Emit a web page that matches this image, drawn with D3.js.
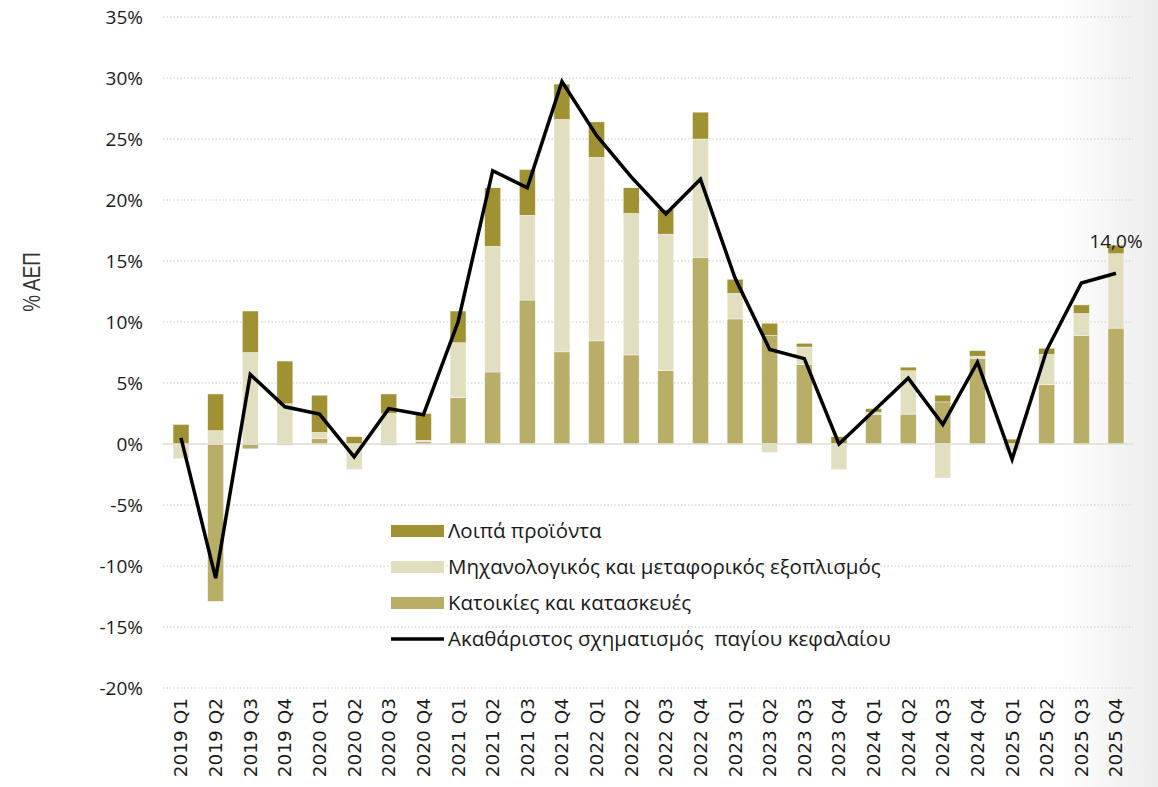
<!DOCTYPE html>
<html>
<head>
<meta charset="utf-8">
<script src="https://cdn.jsdelivr.net/npm/d3@7"></script>
<style>
  body { margin: 0; background: #ffffff; }
  svg { display: block; }
</style>
</head>
<body>
<script>
var SVG_WIDTH = 1158;
var SVG_HEIGHT = 787;

// Data (% of GDP)
var quarters = ["2019 Q1", "2019 Q2", "2019 Q3", "2019 Q4",
                "2020 Q1", "2020 Q2", "2020 Q3", "2020 Q4",
                "2021 Q1", "2021 Q2", "2021 Q3", "2021 Q4",
                "2022 Q1", "2022 Q2", "2022 Q3", "2022 Q4",
                "2023 Q1", "2023 Q2", "2023 Q3", "2023 Q4",
                "2024 Q1", "2024 Q2", "2024 Q3", "2024 Q4",
                "2025 Q1", "2025 Q2", "2025 Q3", "2025 Q4"];

var housing = [0.0, -12.9, -0.4, -0.1,
               0.45, 0.0, -0.1, 0.2,
               3.8, 5.9, 11.8, 7.55,
               8.45, 7.3, 6.0, 15.3,
               10.25, 8.9, 6.5, 0.0,
               2.4, 2.45, 3.45, 7.0,
               0.0, 4.85, 8.9, 9.5];

var machinery = [-1.2, 1.1, 7.5, 3.3,
                 0.5, -2.1, 2.5, 0.1,
                 4.5, 10.3, 6.95, 19.05,
                 15.05, 11.6, 11.2, 9.7,
                 2.1, -0.7, 1.45, -2.1,
                 0.2, 3.55, -2.8, 0.2,
                 -0.5, 2.5, 1.8, 6.1];

var other = [1.6, 3.0, 3.4, 3.5,
             3.05, 0.6, 1.6, 2.2,
             2.6, 4.8, 3.75, 2.9,
             2.9, 2.1, 2.0, 2.2,
             1.15, 1.0, 0.3, 0.6,
             0.3, 0.3, 0.55, 0.45,
             0.4, 0.5, 0.7, 0.7];

var gfcf = [0.5, -11.0, 5.7, 3.05,
            2.45, -1.05, 2.9, 2.4,
            10.0, 22.4, 21.0, 29.7,
            25.3, 21.9, 18.85, 21.7,
            13.6, 7.75, 7.0, 0.0,
            2.7, 5.4, 1.6, 6.7,
            -1.25, 7.7, 13.2, 14.0];

var yTicks = [-20, -15, -10, -5, 0, 5, 10, 15, 20, 25, 30, 35];

var seriesKeys = ["housing", "machinery", "other"];
var seriesNames = {
  other: "Λοιπά προϊόντα",
  machinery: "Μηχανολογικός και μεταφορικός εξοπλισμός",
  housing: "Κατοικίες και κατασκευές"
};
var lineName = "Ακαθάριστος σχηματισμός  παγίου κεφαλαίου";

var colors = {
  other: "#a09232",
  machinery: "#e2dfc1",
  housing: "#b8ae67"
};

var svg, x, y;

function initializeSvg() {
  svg = d3.select("body").append("svg")
          .attr("width", SVG_WIDTH)
          .attr("height", SVG_HEIGHT);

  // faint grey shading at the right edge, like the slide background
  var defs = svg.append("defs");
  var grad = defs.append("linearGradient").attr("id", "edge_shade")
                   .attr("x1", 0).attr("x2", 1).attr("y1", 0).attr("y2", 0);
  grad.append("stop").attr("offset", "0%").attr("stop-color", "#ffffff");
  grad.append("stop").attr("offset", "100%").attr("stop-color", "#ececec");

  svg.append("rect").attr("width", SVG_WIDTH).attr("height", SVG_HEIGHT).style("fill", "#ffffff");
  svg.append("rect")
       .attr("x", 1060).attr("width", SVG_WIDTH - 1060).attr("height", SVG_HEIGHT)
       .style("fill", "url(#edge_shade)");
}

function initializeScales() {
  x = d3.scaleBand()
        .domain(quarters)
        .range([163.7, 1133.3])
        .paddingInner(0.54)
        .paddingOuter(0.27);

  y = d3.scaleLinear()
        .domain([-20, 35])
        .range([688, 17]);
}

function drawAxes() {
  // dotted gridlines
  svg.append("g").selectAll("line")
       .data(yTicks.filter(function (d) { return d !== 0; })).enter()
     .append("line")
       .attr("x1", 163).attr("x2", 1133)
       .attr("y1", function (d) { return y(d); })
       .attr("y2", function (d) { return y(d); })
       .style("stroke", "#d6d6d0")
       .style("stroke-width", 1.3)
       .style("stroke-dasharray", "1.3,2.2");

  // y tick labels
  var yAxis = svg.append("g")
                   .attr("transform", "translate(143,0)")
                   .call(d3.axisLeft(y).tickValues(yTicks).tickSize(0).tickPadding(0)
                           .tickFormat(function (d) { return d + "%"; }));
  yAxis.select(".domain").remove();
  yAxis.selectAll("text")
         .style("font-family", "'Open Sans', sans-serif")
         .style("font-size", "19px")
         .style("fill", "#1a1a1a");

  // x tick labels, rotated
  var xAxis = svg.append("g")
                   .attr("transform", "translate(0,698)")
                   .call(d3.axisBottom(x).tickSize(0).tickPadding(0));
  xAxis.select(".domain").remove();
  xAxis.selectAll("text")
         .attr("transform", "rotate(-90)")
         .attr("x", 0)
         .attr("y", 0)
         .attr("dy", "0.35em")
         .style("text-anchor", "end")
         .style("font-family", "'DejaVu Sans', sans-serif")
         .style("font-size", "18.5px")
         .style("fill", "#1a1a1a");

  // y axis title (condensed look)
  svg.append("text")
       .attr("transform", "translate(40,282) rotate(-90) scale(0.82,1)")
       .style("text-anchor", "middle")
       .style("font-family", "'Liberation Sans', sans-serif")
       .style("font-size", "23px")
       .style("fill", "#333333")
       .text("% ΑΕΠ");
}

function drawBars() {
  var rows = quarters.map(function (q, i) {
    return { quarter: q, housing: housing[i], machinery: machinery[i], other: other[i] };
  });

  var stacked = d3.stack()
                  .keys(seriesKeys)
                  .offset(d3.stackOffsetDiverging)(rows);

  svg.append("g").selectAll("g")
       .data(stacked).enter()
     .append("g")
       .style("fill", function (d) { return colors[d.key]; })
     .selectAll("rect")
       .data(function (d) { return d; }).enter()
     .append("rect")
       .attr("x", function (d) { return x(d.data.quarter); })
       .attr("width", x.bandwidth())
       .attr("y", function (d) { return y(Math.max(d[0], d[1])); })
       .attr("height", function (d) { return Math.abs(y(d[0]) - y(d[1])); })
       .style("stroke", "#ffffff")
       .style("stroke-width", 0.4);

  // zero line
  svg.append("line")
       .attr("x1", 163).attr("x2", 1133)
       .attr("y1", y(0)).attr("y2", y(0))
       .style("stroke", "#e0ddd6")
       .style("stroke-width", 1.6);
}

function drawLine() {
  var line = d3.line()
               .x(function (d, i) { return x(quarters[i]) + x.bandwidth() / 2; })
               .y(function (d) { return y(d); });

  svg.append("path")
       .datum(gfcf)
       .attr("d", line)
       .style("fill", "none")
       .style("stroke", "#000000")
       .style("stroke-width", 3.5)
       .style("stroke-linejoin", "miter");

  // label for the last value
  var last = gfcf.length - 1;
  svg.append("text")
       .attr("x", x(quarters[last]) + x.bandwidth() / 2)
       .attr("y", y(gfcf[last]) - 25)
       .style("text-anchor", "middle")
       .style("font-family", "'Open Sans', sans-serif")
       .style("font-size", "19px")
       .style("fill", "#1a1a1a")
       .text("14,0%");
}

function drawLegend() {
  var items = [
    { name: seriesNames.other, color: colors.other, type: "rect" },
    { name: seriesNames.machinery, color: colors.machinery, type: "rect" },
    { name: seriesNames.housing, color: colors.housing, type: "rect" },
    { name: lineName, color: "#000000", type: "line" }
  ];

  var legend = svg.append("g").attr("transform", "translate(391,531)");

  var rows = legend.selectAll("g")
                   .data(items).enter()
                 .append("g")
                   .attr("transform", function (d, i) { return "translate(0," + (i * 36) + ")"; });

  rows.filter(function (d) { return d.type === "rect"; })
      .append("rect")
        .attr("x", 0).attr("y", -6)
        .attr("width", 53).attr("height", 12)
        .style("fill", function (d) { return d.color; });

  rows.filter(function (d) { return d.type === "line"; })
      .append("line")
        .attr("x1", 0).attr("x2", 53)
        .attr("y1", 0).attr("y2", 0)
        .style("stroke", "#000000")
        .style("stroke-width", 3.5);

  rows.append("text")
        .attr("x", 57)
        .attr("dy", "0.35em")
        .style("font-family", "'Open Sans', sans-serif")
        .style("font-size", "20.5px")
        .style("fill", "#1a1a1a")
        .style("white-space", "pre")
        .text(function (d) { return d.name; });
}

function initialize() {
  initializeSvg();
  initializeScales();
  drawAxes();
  drawBars();
  drawLine();
  drawLegend();
}

initialize();
</script>
</body>
</html>
